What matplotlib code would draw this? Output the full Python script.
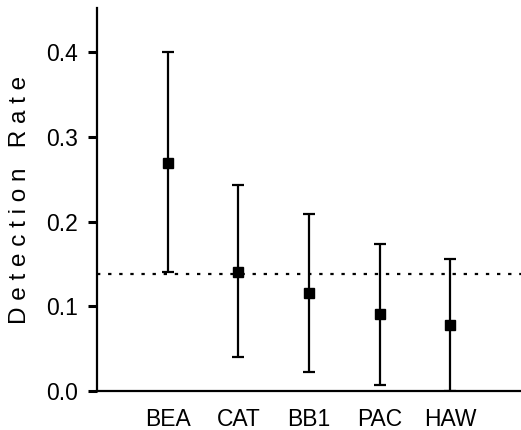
import numpy as np
import matplotlib.pyplot as plt

plt.rcParams['font.family'] = ['Liberation Sans', 'DejaVu Sans']

sites = ['BEA', 'CAT', 'BB1', 'PAC', 'HAW']
rate = [0.269, 0.140, 0.116, 0.091, 0.078]
upper = [0.400, 0.243, 0.209, 0.173, 0.156]
lower = [0.140, 0.040, 0.022, 0.007, 0.000]
overall = 0.138

x = np.arange(1, len(sites) + 1)
rate = np.array(rate)
err = [rate - np.array(lower), np.array(upper) - rate]

fig = plt.figure(figsize=(5.21, 4.30), dpi=100)
ax = fig.add_axes([0.186, 0.091, 0.814, 0.890])

ax.axhline(overall, color='black', linestyle=(0, (1.5, 3.5)), linewidth=1.6)
ax.errorbar(x, rate, yerr=err, fmt='s', color='black', markersize=6.5,
            elinewidth=1.6, capsize=4, capthick=1.6)

ax.set_xlim(0, 6)
ax.set_ylim(0, 0.452)
ax.set_yticks([0.0, 0.1, 0.2, 0.3, 0.4])
ax.set_yticklabels(['0.0', '0.1', '0.2', '0.3', '0.4'])
ax.set_xticks(x)
ax.set_xticklabels(sites)

ax.spines['top'].set_visible(False)
ax.spines['right'].set_visible(False)
ax.spines['left'].set_linewidth(1.6)
ax.spines['bottom'].set_linewidth(1.6)
ax.tick_params(axis='y', direction='out', length=6.5, width=2.2, labelsize=16.5, pad=7)
ax.tick_params(axis='x', length=0, labelsize=16.5, pad=12)

ax.set_ylabel('D e t e c t i o n   R a t e', fontsize=17.5, labelpad=11)

fig.savefig('out.png', dpi=100)
